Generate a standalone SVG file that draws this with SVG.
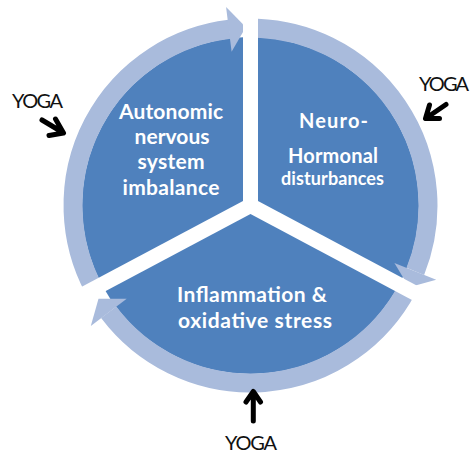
<svg xmlns="http://www.w3.org/2000/svg" width="473" height="455" viewBox="0 0 473 455">
<style>
.disc{fill:#4F81BD}
.band{fill:none;stroke:#A9BBDC;stroke-width:19}
.head{fill:#A9BBDC}
.lbl{font-family:Lato,"Open Sans","Liberation Sans",sans-serif;font-weight:700;fill:#fff;text-anchor:middle}
.yoga{font-family:Lato,"Liberation Sans",sans-serif;font-size:20px;fill:#111}
.arr{fill:none;stroke:#000;stroke-width:5;stroke-linecap:round;stroke-linejoin:round}
</style>
<defs>
<clipPath id="cR"><polygon points="258,201 258,-100 600,-100 600,383"/></clipPath>
<clipPath id="cL"><polygon points="243,201 -100,383.5 -100,-100 243,-100"/></clipPath>
<clipPath id="cB"><polygon points="250.5,214 600,400 600,600 -100,600 -100,400.5"/></clipPath>
</defs>
<rect width="473" height="455" fill="#fff"/>
<g id="node-autonomic">
<g clip-path="url(#cL)">
<circle class="disc" cx="250.5" cy="205.5" r="168.5"/>
<path class="band" d="M93.8 288.8 A177.5 177.5 0 0 1 229.5 29.2"/>
<polygon class="head" points="231.6,51.7 226.1,7 245.8,27.2"/>
</g>
<text class="lbl" font-size="21" x="171" y="119" textLength="104">Autonomic</text>
<text class="lbl" font-size="21" x="172" y="144" textLength="75">nervous</text>
<text class="lbl" font-size="21" x="171" y="169" textLength="67">system</text>
<text class="lbl" font-size="21" x="171" y="195" textLength="97">imbalance</text>
</g>
<g id="node-neurohormonal">
<g clip-path="url(#cR)">
<circle class="disc" cx="250.5" cy="205.5" r="168.5"/>
<path class="band" d="M250.5 28 A177.5 177.5 0 0 1 415.3 271.4"/>
<polygon class="head" points="394.4,263.1 436.2,279.8 409,287.2"/>
</g>
<text class="lbl" font-size="20" x="333.5" y="128" textLength="69">Neuro-</text>
<text class="lbl" font-size="20" x="333" y="163" textLength="90">Hormonal</text>
<text class="lbl" font-size="18" x="332.5" y="185" textLength="103">disturbances</text>
</g>
<g id="node-inflammation">
<g clip-path="url(#cB)">
<circle class="disc" cx="250.5" cy="205.5" r="168.5"/>
<path class="band" d="M407.2 288.8 A177.5 177.5 0 0 1 108.7 312.3"/>
<polygon class="head" points="126.7,298.8 90.8,325.9 98.5,298.7"/>
</g>
<text class="lbl" font-size="21" x="252" y="302" textLength="150">Inflammation &amp;</text>
<text class="lbl" font-size="21" x="255" y="328" textLength="154">oxidative stress</text>
</g>
<g id="yoga-left"><text class="yoga" x="12" y="108" textLength="51">YOGA</text></g>
<g id="yoga-right"><text class="yoga" x="419" y="91" textLength="50">YOGA</text></g>
<g id="yoga-bottom"><text class="yoga" x="225" y="450" textLength="52">YOGA</text></g>
<g id="connectors">
<path class="arr" d="M42 120 L62 132 M55.5 119 L63.5 133 L49 135.5"/>
<path class="arr" d="M446 104.5 L427 117.5 M429.5 105 L425.5 118.5 L439.5 118.5"/>
<path class="arr" d="M253.3 421 V393 M246 402 L253.3 391.5 L260.5 402"/>
</g>
</svg>
